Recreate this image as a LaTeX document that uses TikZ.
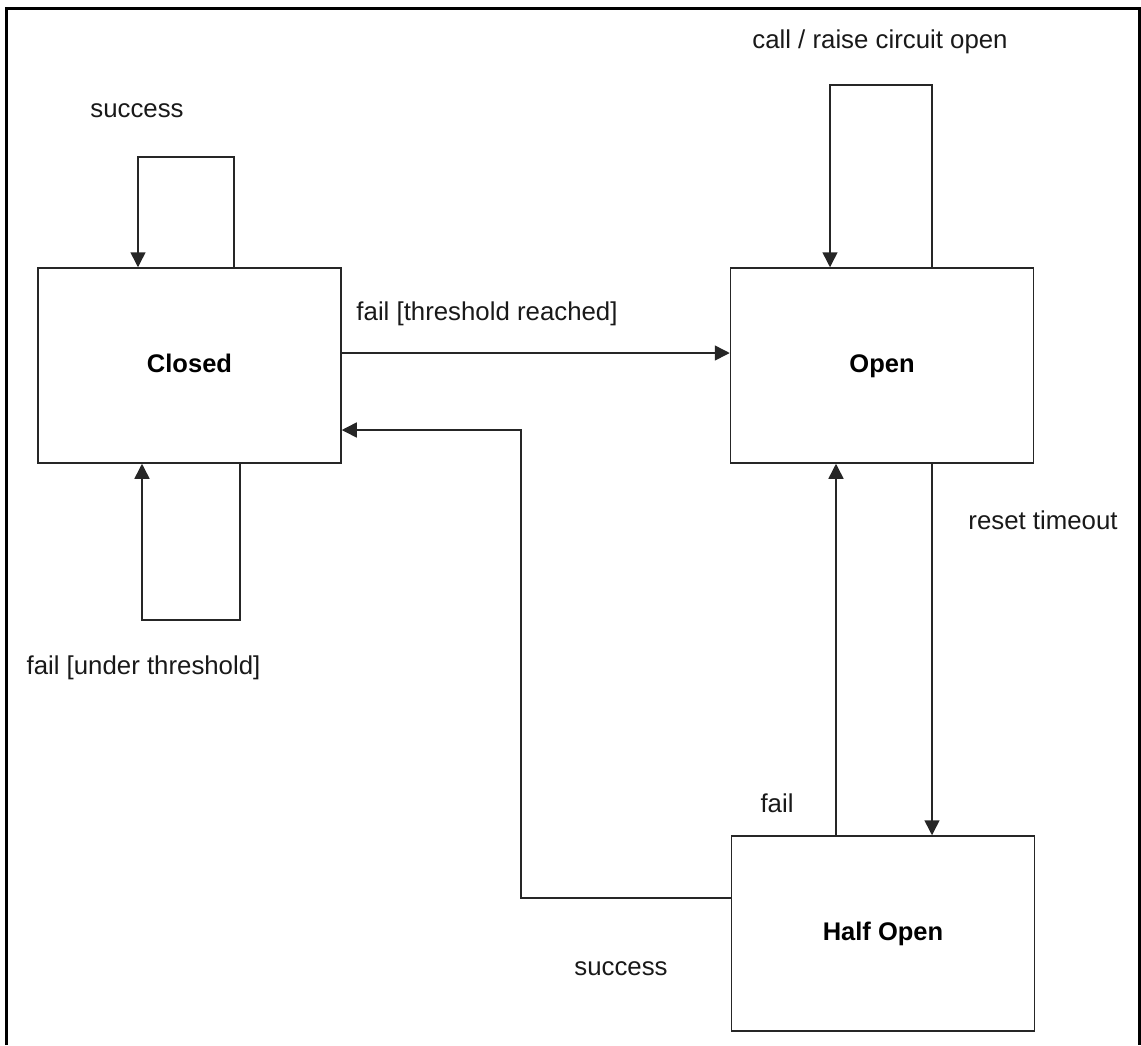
\documentclass[tikz,border=0pt]{standalone}
\usepackage{fontspec}
\setmainfont{Liberation Sans}
\usetikzlibrary{arrows.meta}
\begin{document}
\begin{tikzpicture}[x=1pt,y=-1pt,
  state/.style={draw=black!85,line width=1.5pt,minimum width=303pt,minimum height=195pt,inner sep=0pt,text height=18pt,text depth=5pt,font=\fontsize{25.5}{30}\selectfont\bfseries},
  lbl/.style={font=\fontsize{25.8}{30}\selectfont,inner sep=0pt,text=black!90},
  conn/.style={draw=black!85,line width=1.5pt},
  arr/.style={conn,-{Triangle[length=15pt,width=15pt]}}]
\useasboundingbox (0,0) rectangle (1141,1045);
\draw[line width=3pt] (6,1045) -- (6,8) -- (1139.5,8) -- (1139.5,1045);
\node[state] (closed) at (189.5,365.5) {Closed};
\node[state] (open) at (882,365.5) {Open};
\node[state] (half) at (883,933.5) {Half Open};
% closed self-loop top
\coordinate (ct1) at (234,157);
\coordinate (ct2) at (138,157);
\draw[arr] (closed.north -| ct1) -- (ct1) -- (ct2) -- (closed.north -| ct2);
\node[lbl] (lsuc1) at (137,111) {success};
% closed self-loop bottom
\coordinate (cb1) at (240,620);
\coordinate (cb2) at (142,620);
\draw[arr] (closed.south -| cb1) -- (cb1) -- (cb2) -- (closed.south -| cb2);
\node[lbl] (lfut) at (143.5,668) {fail [under threshold]};
% open self-loop top
\coordinate (ot1) at (932,85);
\coordinate (ot2) at (830,85);
\draw[arr] (open.north -| ot1) -- (ot1) -- (ot2) -- (open.north -| ot2);
\node[lbl] (lcall) at (880,42) {call / raise circuit open};
% closed -> open
\coordinate (co) at (0,353);
\draw[arr] (closed.east |- co) -- (open.west |- co);
\node[lbl] (lftr) at (487,314) {fail [threshold reached]};
% open -> half
\coordinate (oh) at (932,0);
\draw[arr] (open.south -| oh) -- (half.north -| oh);
\node[lbl] (lreset) at (1043,520) {reset timeout};
% half -> open
\coordinate (ho) at (836,0);
\draw[arr] (half.north -| ho) -- (open.south -| ho);
\node[lbl] (lfail) at (777,803) {fail};
% half -> closed
\coordinate (hc1) at (521,898);
\coordinate (hc2) at (521,430);
\draw[arr] (half.west |- hc1) -- (hc1) -- (hc2) -- (closed.east |- hc2);
\node[lbl] (lsuc2) at (621,969) {success};
\end{tikzpicture}
\end{document}
